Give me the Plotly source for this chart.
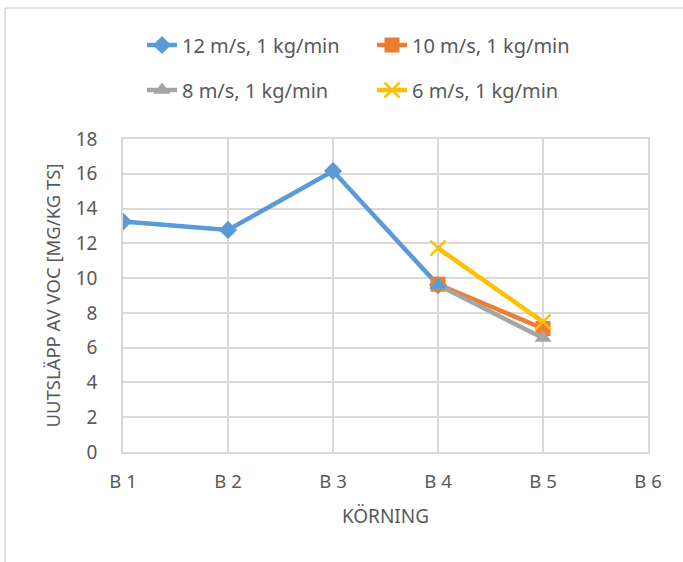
import plotly.graph_objects as go

categories = ["B 1", "B 2", "B 3", "B 4", "B 5", "B 6"]
s12 = [13.25, 12.77, 16.16, 9.6, None, None]
s10 = [None, None, None, 9.65, 7.1, None]
s8 = [None, None, None, 9.6, 6.55, None]
s6 = [None, None, None, 11.73, 7.48, None]
names = ["12 m/s, 1 kg/min", "10 m/s, 1 kg/min", "8 m/s, 1 kg/min", "6 m/s, 1 kg/min"]
y_ticks = list(range(0, 19, 2))

BLUE, ORANGE, GRAY, YELLOW = "#5B9BD5", "#ED7D31", "#A5A5A5", "#FFC000"
TXT = "#595959"
FONT = "Noto Sans"

fig = go.Figure()
fig.add_trace(go.Scatter(x=categories, y=s12, name=names[0], mode="lines+markers",
                         line=dict(color=BLUE, width=4.5),
                         marker=dict(symbol="diamond", size=14, color=BLUE),
                         legend="legend"))
fig.add_trace(go.Scatter(x=categories, y=s10, name=names[1], mode="lines+markers",
                         line=dict(color=ORANGE, width=4.5),
                         marker=dict(symbol="square", size=15, color=ORANGE),
                         legend="legend"))
fig.add_trace(go.Scatter(x=categories, y=s8, name=names[2], mode="lines+markers",
                         line=dict(color=GRAY, width=4.5),
                         marker=dict(symbol="triangle-up", size=15, color=GRAY),
                         legend="legend2"))
# B4 point of the 8 m/s series appears blue in the reference
fig.add_trace(go.Scatter(x=categories[3:4], y=s8[3:4], mode="markers", showlegend=False,
                         marker=dict(symbol="triangle-up", size=15, color=BLUE)))
fig.add_trace(go.Scatter(x=categories, y=s6, name=names[3], mode="lines+markers",
                         line=dict(color=YELLOW, width=4.5),
                         marker=dict(symbol="x-thin", size=15, color=YELLOW,
                                     line=dict(color=YELLOW, width=2.5)),
                         legend="legend2"))

W, H = 683, 562
L, R, T, B = 123, 35, 139, 110
pw, ph = W - L - R, H - T - B

def px_x(x):
    return (x - L) / pw

def px_y(y):
    return 1 + (T - y) / ph

fig.update_layout(
    width=W, height=H,
    margin=dict(l=L, r=R, t=T, b=B),
    paper_bgcolor="white", plot_bgcolor="white",
    font=dict(family=FONT, color=TXT, size=18),
    legend=dict(orientation="h", x=px_x(142), y=px_y(45), xanchor="left", yanchor="middle",
                entrywidth=185, font=dict(size=20, color=TXT), bgcolor="rgba(0,0,0,0)"),
    legend2=dict(orientation="h", x=px_x(142), y=px_y(90), xanchor="left", yanchor="middle",
                 entrywidth=185, font=dict(size=20, color=TXT), bgcolor="rgba(0,0,0,0)"),
    xaxis=dict(type="category", categoryorder="array", categoryarray=categories,
               range=[0, len(categories) - 1], showgrid=True, gridcolor="#D9D9D9", gridwidth=1.5,
               showline=True, linecolor="#D9D9D9", linewidth=1.5, mirror=True,
               ticks="", ticklabelstandoff=12,
               tickfont=dict(size=18.5, color=TXT),
               title=dict(text="KÖRNING", font=dict(size=19, color=TXT), standoff=18)),
    yaxis=dict(range=[0, 18], tickvals=y_ticks, showgrid=True, gridcolor="#D9D9D9", gridwidth=1.5,
               showline=True, linecolor="#D9D9D9", linewidth=1.5, mirror=True,
               ticks="", zeroline=False, ticklabelstandoff=20,
               tickfont=dict(size=19, color=TXT),
               title=dict(text="UUTSLÄPP AV VOC [MG/KG TS]", font=dict(size=18.5, color=TXT), standoff=10)),
    showlegend=True,
)

# chart outer border (top and left visible in reference)
fig.add_shape(type="line", xref="paper", yref="paper", x0=px_x(5), x1=px_x(683), y0=px_y(8), y1=px_y(8),
              line=dict(color="#D9D9D9", width=1.5))
fig.add_shape(type="line", xref="paper", yref="paper", x0=px_x(5), x1=px_x(5), y0=px_y(8), y1=px_y(562),
              line=dict(color="#D9D9D9", width=1.5))

fig.write_html("out.html")
